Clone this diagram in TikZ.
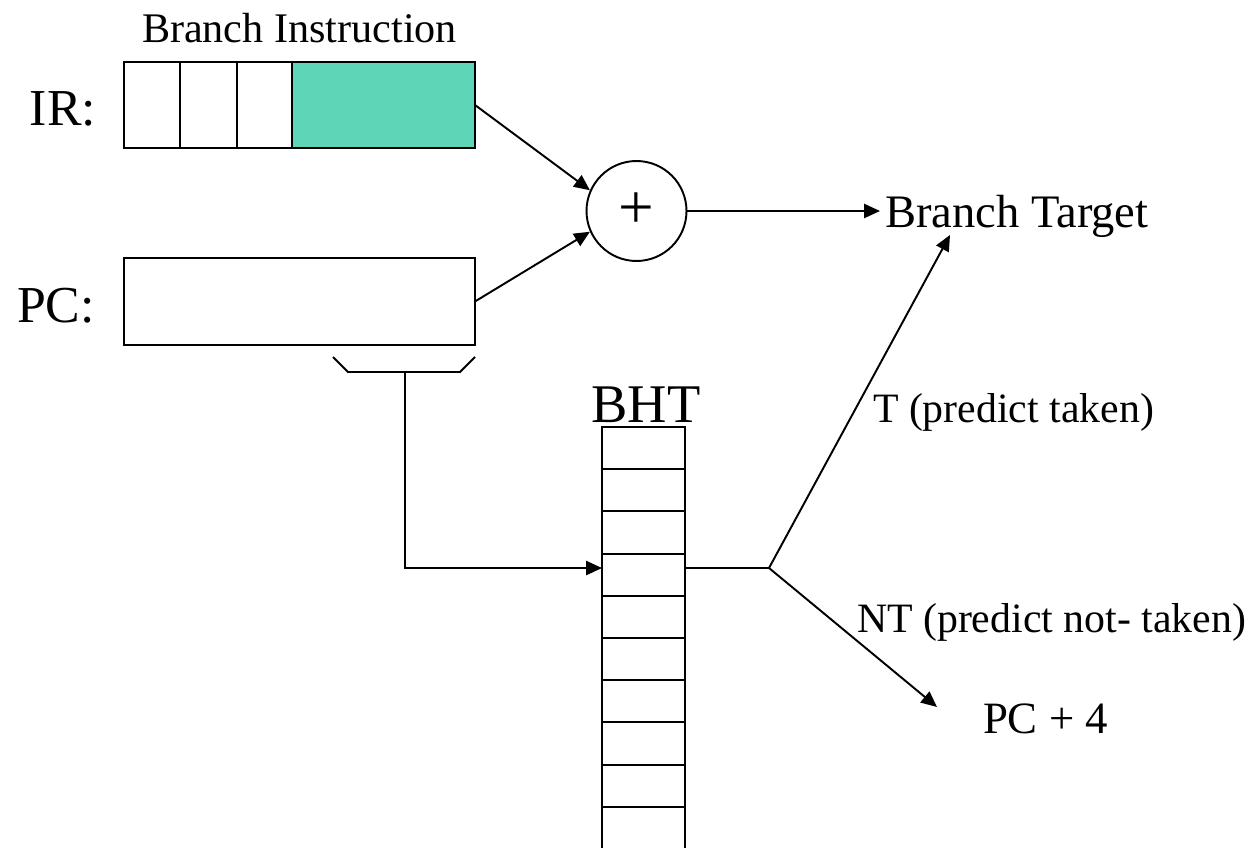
\documentclass[tikz,border=0pt]{standalone}
\usepackage{fontspec}
\setmainfont{Liberation Serif}
\usetikzlibrary{arrows.meta}
\definecolor{tealfill}{RGB}{95,213,183}
\begin{document}
\begin{tikzpicture}[x=0.02cm,y=-0.02cm,
  line width=1.1pt,
  box/.style={draw,rectangle,inner sep=0pt,outer sep=0pt},
  lbl/.style={inner sep=0pt,outer sep=0pt,anchor=base west},
  arr/.style={-{Triangle[length=9pt,width=8pt]}},
  ]
\useasboundingbox (0,0) rectangle (1251,848);
% IR register
\node[box, minimum width=1.12cm, minimum height=1.72cm] (ir1) at (152,105) {};
\node[box, minimum width=1.14cm, minimum height=1.72cm] (ir2) at (208.5,105) {};
\node[box, minimum width=1.10cm, minimum height=1.72cm] (ir3) at (264.5,105) {};
\node[box, fill=tealfill, minimum width=3.66cm, minimum height=1.72cm] (irf) at (383.5,105) {};
\node[inner sep=0pt, anchor=base, font=\fontsize{24}{28}\selectfont] (bi) at (299.5,43) {Branch Instruction};
\node[lbl, font=\fontsize{29.5}{34}\selectfont] (irl) at (30,126) {IR:};
% PC register
\node[box, minimum width=7.02cm, minimum height=1.74cm] (pc) at (299.5,301.5) {};
\node[lbl, font=\fontsize{29.5}{34}\selectfont] (pcl) at (17,322) {PC:};
% adder
\node[circle, draw, minimum size=2cm, inner sep=0pt, font=\fontsize{36}{38}\selectfont] (sum) at (636.5,211) {+};
\node[lbl, font=\fontsize{26.5}{30}\selectfont] (bt) at (885,227) {Branch Target};
\coordinate (btin) at (880,211);
\draw[arr] (irf.east) -- (sum.156);
\draw[arr] (pc.east) -- (sum.204);
\draw[arr] (sum.east) -- (btin);
% index bracket
\draw (333,357) -- (348,372) -- (460,372) -- (475,357);
\coordinate (br) at (405,372);
% BHT
\node[inner sep=0pt, anchor=base, font=\fontsize{31}{34}\selectfont] (bhtl) at (646,422) {BHT};
\foreach \i in {1,...,9}{
  \node[box, minimum width=1.66cm, minimum height=0.844cm] (r\i) at (643.5,{427+(\i-0.5)*42.2}) {};
}
\node[box, minimum width=1.66cm, minimum height=1.26cm] (r10) at (643.5,838.5) {};
\draw[arr] (br) |- ([yshift=3.8pt]r4.west);
\coordinate (fork) at (769,568);
\draw ([yshift=3.8pt]r4.east) -- (fork);
\coordinate (ttip) at (950,235);
\coordinate (ntip) at (937,707);
\draw[arr] (fork) -- (ttip);
\draw[arr] (fork) -- (ntip);
\node[lbl, font=\fontsize{23.8}{28}\selectfont] (tl) at (873,422) {T (predict taken)};
\node[lbl, font=\fontsize{23.8}{28}\selectfont] (ntl) at (857,632) {NT (predict not- taken)};
\node[lbl, font=\fontsize{25.5}{30}\selectfont] (pc4) at (983,733) {PC + 4};
\end{tikzpicture}
\end{document}
